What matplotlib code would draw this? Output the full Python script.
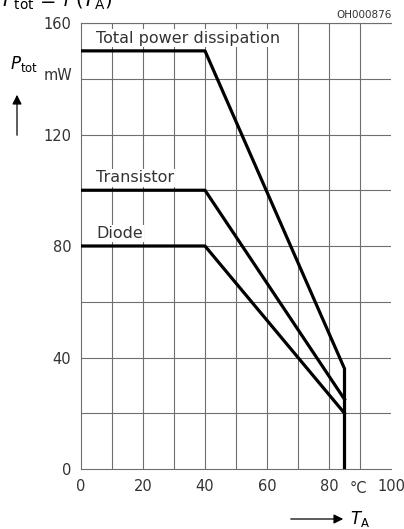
import matplotlib.pyplot as plt
import numpy as np

# curve corner points (T_A in degC, P_tot in mW)
temp = [0, 40, 85, 85]
p_total = [150, 150, 36, 0]
p_transistor = [100, 100, 25]
p_diode = [80, 80, 20]
temp_short = [0, 40, 85]

x_ticks = [0, 20, 40, 60, 80, 100]
x_labels = ['0', '20', '40', '60', '80', '100']
y_ticks = [0, 40, 80, 120, 160]

fig = plt.figure(figsize=(4.04, 5.29), dpi=100)
ax = fig.add_axes([81 / 404, 1 - 469 / 529, 310 / 404, 446 / 529])

grid_col = '#6e6e6e'
txt_col = '#333333'
for x in range(10, 100, 10):
    ax.axvline(x, color=grid_col, lw=0.8, zorder=1)
for y in range(20, 161, 20):
    ax.axhline(y, color=grid_col, lw=0.8, zorder=1)

ax.plot(temp, p_total, color='black', lw=2.3, zorder=3)
ax.plot(temp_short, p_transistor, color='black', lw=2.3, zorder=3)
ax.plot(temp_short, p_diode, color='black', lw=2.3, zorder=3)

box = dict(facecolor='white', edgecolor='none', pad=1)
ax.text(4.8, 154.5, 'Total power dissipation', fontsize=11.5, va='center',
        color=txt_col, bbox=box, zorder=2)
ax.text(4.8, 104.5, 'Transistor', fontsize=11.5, va='center', color=txt_col, bbox=box, zorder=2)
ax.text(4.8, 84.5, 'Diode', fontsize=11.5, va='center', color=txt_col, bbox=box, zorder=2)

ax.set_xlim(0, 100)
ax.set_ylim(0, 160)
ax.set_xticks(x_ticks)
ax.set_xticklabels(x_labels)
ax.set_yticks(y_ticks)
ax.tick_params(axis='x', length=0, labelsize=10.5, pad=7, colors=txt_col)
ax.tick_params(axis='y', length=0, labelsize=10.5, pad=7, colors=txt_col)
for s in ax.spines.values():
    s.set_color(grid_col)
    s.set_linewidth(0.8)
ax.spines['right'].set_visible(False)

# degree C unit squeezed in between 80 and 100
ax.text(89.4, -4.4, '°C', fontsize=10.5, ha='center', va='top', color=txt_col)

# axis labels with arrows
fig.text(10 / 404, 1 - 64 / 529, r'$P_{\mathrm{tot}}$', fontsize=12, va='center')
fig.text(44 / 404, 1 - 76 / 529, 'mW', fontsize=10.5, va='center', color=txt_col)
fig.add_artist(plt.Annotation('', xy=(17 / 404, 1 - 92 / 529), xytext=(17 / 404, 1 - 138 / 529),
                              xycoords='figure fraction',
                              arrowprops=dict(arrowstyle='-|>', color='black', lw=0.9,
                                              mutation_scale=14)))
fig.text(350 / 404, 1 - 519 / 529, r'$T_{\mathrm{A}}$', fontsize=12, va='center')
fig.add_artist(plt.Annotation('', xy=(346 / 404, 1 - 519 / 529), xytext=(288 / 404, 1 - 519 / 529),
                              xycoords='figure fraction',
                              arrowprops=dict(arrowstyle='-|>', color='black', lw=0.9,
                                              mutation_scale=14)))

fig.text(392 / 404, 1 - 15 / 529, 'OH000876', fontsize=7.5, ha='right', va='center', color=txt_col)
# chart title, cut off by the top edge as in the scan
fig.text(2 / 404, 1 - 1 / 529, r'$P_{\mathrm{tot}}$ = $f$ ($T_{\mathrm{A}}$)', fontsize=14, va='center')

fig.savefig('out.png', dpi=100)
